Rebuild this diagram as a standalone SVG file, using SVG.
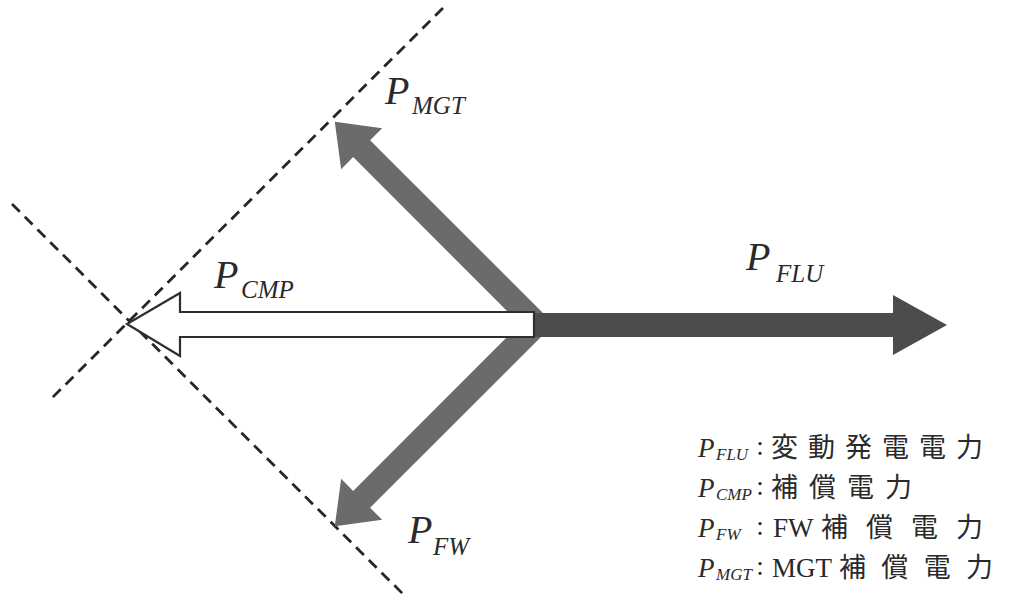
<svg xmlns="http://www.w3.org/2000/svg" width="1012" height="614" viewBox="0 0 1012 614">
  <style>
    .dash { fill: none; stroke: #262626; stroke-width: 2.8; stroke-dasharray: 11 7; }
    .arm { fill: #6b6b6b; }
    .flu { fill: #4c4c4c; }
    .cmp { fill: #ffffff; stroke: #2e2e2e; stroke-width: 2.2; stroke-linejoin: miter; }
    .lbl { font-family: "Liberation Serif", "Times New Roman", serif; font-style: italic; fill: #2a2a2a; }
    .big { font-size: 40px; }
    .sub { font-size: 25px; }
    .lp { font-size: 27px; }
    .ls { font-size: 17px; }
    .rom { font-family: "Liberation Serif", "Times New Roman", serif; font-size: 27px; fill: #2a2a2a; }
    .jp { font-family: "Noto Sans CJK JP", sans-serif; font-size: 27px; fill: #2a2a2a; }
  </style>
  <rect width="1012" height="614" fill="#ffffff"/>

  <g id="connectors">
    <line class="dash" x1="443" y1="8" x2="50" y2="400"/>
    <line class="dash" x1="12" y1="204" x2="405" y2="596"/>
  </g>

  <g id="P_MGT">
    <path class="arm" d="M-6,-12 H248 V-29 L286,0 L248,29 V12 H-6 Z" transform="translate(537,324) rotate(-135)"/>
    <text class="lbl big" x="385" y="104">P</text>
    <text class="lbl sub" x="412" y="114">MGT</text>
  </g>

  <g id="P_FW">
    <path class="arm" d="M-6,-12 H248 V-29 L286,0 L248,29 V12 H-6 Z" transform="translate(537,324) rotate(135)"/>
    <text class="lbl big" x="408" y="543">P</text>
    <text class="lbl sub" x="433" y="555">FW</text>
  </g>

  <g id="P_FLU">
    <path class="flu" d="M533,313 H893 V295 L947,325 L893,355 V337 H533 Z"/>
    <text class="lbl big" x="746" y="270">P</text>
    <text class="lbl sub" x="776" y="282">FLU</text>
  </g>

  <g id="P_CMP">
    <path class="cmp" d="M534,312 H180 V293 L127,324 L180,356 V337 H534 Z"/>
    <text class="lbl big" x="214" y="288">P</text>
    <text class="lbl sub" x="241" y="298">CMP</text>
  </g>

  <g id="legend">
    <text class="lbl lp" x="698" y="457">P</text>
    <text class="lbl ls" x="716" y="460">FLU</text>
    <text class="rom" x="760" y="455" text-anchor="middle">:</text>
    <text class="jp" x="771" y="457" textLength="212" lengthAdjust="spacing">変動発電電力</text>

    <text class="lbl lp" x="698" y="497">P</text>
    <text class="lbl ls" x="716" y="500">CMP</text>
    <text class="rom" x="760" y="495" text-anchor="middle">:</text>
    <text class="jp" x="771" y="497" textLength="141" lengthAdjust="spacing">補償電力</text>

    <text class="lbl lp" x="698" y="537">P</text>
    <text class="lbl ls" x="716" y="540">FW</text>
    <text class="rom" x="760" y="535" text-anchor="middle">:</text>
    <text class="rom" x="773" y="537">FW</text>
    <text class="jp" x="821" y="537" textLength="162" lengthAdjust="spacing">補償電力</text>

    <text class="lbl lp" x="698" y="577">P</text>
    <text class="lbl ls" x="716" y="580">MGT</text>
    <text class="rom" x="760" y="575" text-anchor="middle">:</text>
    <text class="rom" x="772" y="577">MGT</text>
    <text class="jp" x="839" y="577" textLength="154" lengthAdjust="spacing">補償電力</text>
  </g>
</svg>
